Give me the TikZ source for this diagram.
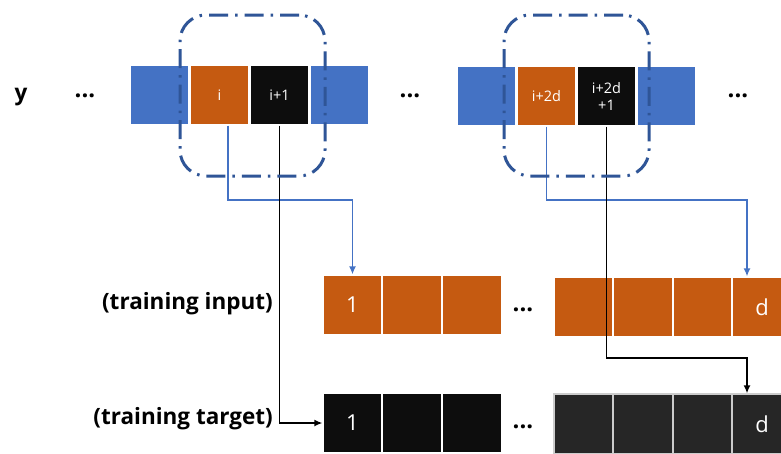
\documentclass[tikz,border=0pt]{standalone}
\usepackage{fontspec}
\setmainfont{Open Sans}
\usetikzlibrary{calc,arrows.meta}
\definecolor{cblue}{HTML}{4472C4}
\definecolor{corange}{HTML}{C55A11}
\definecolor{cblack}{HTML}{0D0D0D}
\definecolor{cdark}{HTML}{262626}
\definecolor{cframe}{HTML}{2F5597}
\tikzset{
  cell/.style={rectangle, minimum width=59pt, minimum height=60pt, inner sep=0pt, draw=white, line width=1.2pt, text=white},
  bluecell/.style={cell, fill=cblue},
  orcell/.style={cell, fill=corange},
  blkcell/.style={cell, fill=cblack},
  drkcell/.style={cell, fill=cdark, draw=white!80!black},
  small/.style={font=\fontsize{14.5}{17}\selectfont},
  big/.style={font=\fontsize{22}{24}\selectfont},
  lbl/.style={font=\fontsize{22.5}{25}\selectfont\bfseries, inner sep=0pt},
  dots/.style={font=\fontsize{24}{26}\selectfont\bfseries, inner sep=0pt, anchor=base},
  group/.style={rectangle, rounded corners=26pt, draw=cframe, line width=3pt, dash pattern=on 19pt off 7pt on 2.5pt off 7pt, minimum width=145pt, minimum height=161pt, inner sep=0pt},
  bluearrow/.style={draw=cblue, line width=1.7pt, -{Latex[length=8pt,width=7pt]}},
  blackarrow/.style={draw=black, line width=1.7pt, -{Latex[length=8pt,width=7pt]}},
}
\begin{document}
\begin{tikzpicture}[x=1pt,y=-1pt]
\path[use as bounding box, fill=white] (0,0) rectangle (781,453);

% labels
\node[lbl] (ylab) at (21,97) {y};
\node[dots] (d1) at (85,97) {...};
\node[dots] (d2) at (410,97) {...};
\node[dots] (d3) at (738,97) {...};
\node[lbl, anchor=east] (lin) at (273,304) {(training input)};
\node[lbl, anchor=east] (ltg) at (273,419) {(training target)};

% top left group
\node[bluecell] (a1) at (159.5,95) {};
\node[orcell, small] (o1) at (219.5,95) {i};
\node[blkcell, small] (k1) at (279.5,95) {i+1};
\node[bluecell] (a2) at (339.5,95) {};

% top right group
\node[bluecell] (a3) at (486.5,96) {};
\node[orcell, small] (o2) at (546.5,96) {i+2d};
\node[blkcell, small, align=center] (k2) at (606.5,96) {i+2d\\+1};
\node[bluecell] (a4) at (666.5,96) {};

% training input
\node[orcell, big] (in1) at (352.5,305) {1};
\node[orcell] (in2) at (412,305) {};
\node[orcell] (in3) at (472,305) {};
\node[dots] (d4) at (523,311) {...};
\node[orcell] (in5) at (583.5,307) {};
\node[orcell] (in6) at (643,307) {};
\node[orcell] (in7) at (702.5,307) {};
\node[orcell, big] (in8) at (762,307) {d};

% training target
\node[blkcell, big] (t1) at (352.5,423) {1};
\node[blkcell] (t2) at (412,423) {};
\node[blkcell] (t3) at (472,423) {};
\node[dots] (d5) at (523,428) {...};
\node[drkcell] (t5) at (583.5,424) {};
\node[drkcell] (t6) at (643,424) {};
\node[drkcell] (t7) at (702.5,424) {};
\node[drkcell, big] (t8) at (762,424) {d};

% connectors
\coordinate (c1) at (228,200);
\coordinate (c2) at (747,200);
\coordinate (c3) at (546.5,200);
\coordinate (c4) at (747,358);
\draw[bluearrow] ([xshift=8.5pt]o1.south) -- (c1) -| (in1.north);
\draw[bluearrow] (o2.south) -- (c3) -- (c2) -- (c2 |- in8.north);
\draw[blackarrow] (k1.south) |- (t1.west);
\draw[blackarrow] (k2.south) |- (c4) -- (c4 |- t8.north);

% dashed groups
\node[group] (g1) at (252.5,95.5) {};
\node[group] (g2) at (576.5,95.5) {};
\end{tikzpicture}
\end{document}
